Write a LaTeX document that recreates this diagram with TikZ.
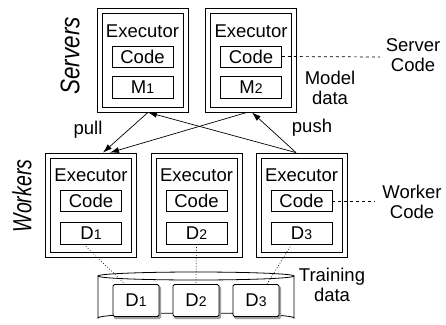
\documentclass[tikz,border=0pt]{standalone}
\usepackage{fontspec}
\setmainfont{Liberation Sans}
\usetikzlibrary{arrows.meta,calc}
\newcommand{\sm}[1]{{\fontsize{14}{14}\selectfont #1}}
\begin{document}
\begin{tikzpicture}[x=1pt,y=-1pt,
  font=\fontsize{18.5}{20.5}\selectfont,
  line width=0.8pt,
  outerbox/.style={draw, minimum width=91pt, minimum height=104pt, inner sep=0pt},
  innerbox/.style={draw, minimum width=81pt, minimum height=94pt, inner sep=0pt},
  codebox/.style={draw, minimum width=61pt, minimum height=21pt, inner sep=0pt},
  databox/.style={draw, minimum width=61pt, minimum height=22pt, inner sep=0pt},
  txt/.style={inner sep=0pt, align=center},
  arr/.style={-{Latex[length=9pt,width=6pt]}, line width=0.7pt},
  dotline/.style={dotted, line width=0.7pt},
  dashline/.style={dashed, line width=0.7pt},
  cylbox/.style={draw, fill=white, rounded corners=1.5pt, minimum width=46pt, minimum height=32pt, inner sep=0pt}
]
\useasboundingbox (0,0) rectangle (446,324);

% Servers
\foreach \n/\x/\m in {s1/142.5/1, s2/251/2}{
  \node[outerbox] (\n) at (\x,60) {};
  \node[innerbox] (\n i) at (\x,60) {};
  \node[txt] (\n e) at (\x,31) {Executor};
  \node[codebox] (\n c) at (\x,56.5) {Code};
  \node[databox] (\n m) at (\x,87.5) {M\sm{\m}};
}
% Workers
\foreach \n/\x/\m in {w1/91/1, w2/196.5/2, w3/301.5/3}{
  \node[outerbox] (\n) at (\x,205) {};
  \node[innerbox] (\n i) at (\x,205) {};
  \node[txt] (\n e) at (\x,175) {Executor};
  \node[codebox] (\n c) at (\x,201) {Code};
  \node[databox] (\n d) at (\x,233) {D\sm{\m}};
}

% labels
\node[txt, rotate=90, font=\fontsize{22.5}{24}\selectfont\itshape] (lserv) at (70,56) {\scalebox{1}[1.2]{Servers}};
\node[txt, rotate=90, font=\fontsize{19.5}{22}\selectfont\itshape] (lwork) at (22,196) {\scalebox{1}[1.35]{Workers}};
\node[txt] (lpull) at (88,130) {pull};
\node[txt] (lpush) at (312,128) {push};
\node[txt] (lmodel) at (330,88) {Model\\data};
\node[txt] (lscode) at (413,55) {Server\\Code};
\node[txt] (lwcode) at (412,202) {Worker\\Code};
\node[txt] (ltrain) at (332,285) {Training\\data};

% dashed connectors
\coordinate (sce) at (380,57);
\coordinate (wce) at (375,201);
\draw[dashline] (s2c.east) -- (sce);
\draw[dashline] (w3c.east) -- (wce);

% arrows
\draw[arr] ($(s1.south)+(5.5,0)$) -- ($(w1.north)+(12,0)$);
\draw[arr] ($(s2.south)+(-4,0)$) -- ($(w1.north)+(19,0)$);
\draw[arr] ($(w3.north)+(-5.5,0)$) -- ($(s1.south)+(5.5,0)$);
\draw[arr] ($(w3.north)+(-5.5,0)$) -- ($(s2.south)+(1,0)$);

% cylinder
\draw (98,276) -- (98,318) arc[start angle=180, end angle=360, x radius=98, y radius=5] -- (294,276);
\draw (196,276) ellipse[x radius=98, y radius=4];

% cylinder boxes
\foreach \n/\x/\m in {c1/136/1, c2/196/2, c3/256/3}{
  \fill[gray!75, rounded corners=1.5pt] (\x-22,286) rectangle (\x+25,319);
  \node[cylbox] (\n) at (\x,300.5) {D\sm{\m}};
}

% dotted connectors
\draw[dotline] ($(w1d.south)+(-7,0)$) -- ($(c1.north)+(-11,0)$);
\draw[dotline] (w2d.south) -- (c2.north);
\draw[dotline] ($(w3d.south)+(-10,0)$) -- ($(c3.north)+(11,0)$);
\end{tikzpicture}
\end{document}
